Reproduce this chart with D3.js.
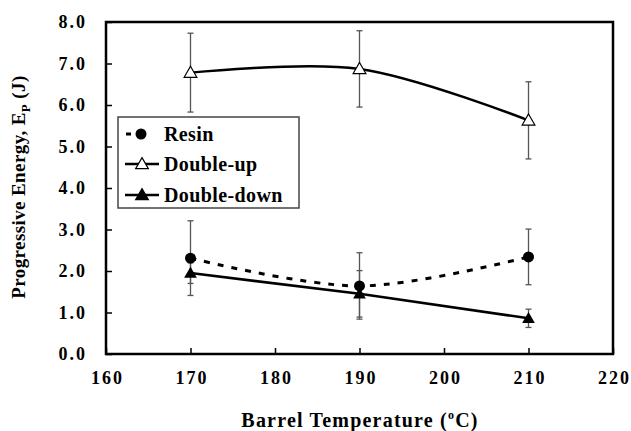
<!DOCTYPE html>
<html>
<head>
<meta charset="utf-8">
<script src="https://cdn.jsdelivr.net/npm/d3@7"></script>
<style>
body { margin:0; background:#fff; }
</style>
</head>
<body>
<div id="chart"></div>
<script>
var temps = [170, 190, 210];
var resin = [2.31, 1.64, 2.34];
var resinErr = [0.9, 0.8, 0.67];
var doubleUp = [6.78, 6.87, 5.63];
var doubleUpErr = [0.95, 0.92, 0.93];
var doubleDown = [1.95, 1.45, 0.86];
var doubleDownErr = [0.25, 0.56, 0.22];
var xTicks = [160, 170, 180, 190, 200, 210, 220];
var yTicks = [0, 1, 2, 3, 4, 5, 6, 7, 8];
var seriesNames = ["Resin", "Double-up", "Double-down"];

var W = 631, H = 431;
var margin = {left:106, top:22, right:18, bottom:77};
var FONT = "'Liberation Serif', 'Times New Roman', Times, serif";

var svg = d3.select("#chart").append("svg").attr("width", W).attr("height", H)
    .style("font-family", FONT).style("font-weight", "bold");

var x = d3.scaleLinear().domain([160, 220]).range([margin.left, W - margin.right]);
var y = d3.scaleLinear().domain([0, 8]).range([H - margin.bottom, margin.top]);

// frame
svg.append("rect")
    .attr("x", x(160)).attr("y", y(8))
    .attr("width", x(220) - x(160)).attr("height", y(0) - y(8))
    .style("fill", "none").style("stroke", "#000").style("stroke-width", 2.5);

// axes with inner ticks
var xAxis = svg.append("g").attr("transform", "translate(0," + y(0) + ")")
    .call(d3.axisBottom(x).tickValues(xTicks).tickSizeInner(-6).tickSizeOuter(0).tickPadding(17));
xAxis.attr("font-family", null).attr("font-size", null);
xAxis.select(".domain").remove();
xAxis.selectAll("line").style("stroke", "#000").style("stroke-width", 1.5);
xAxis.selectAll("text").style("font-size", "18px").style("fill", "#000")
    .style("letter-spacing", "2px").attr("dx", 1);

var yAxis = svg.append("g").attr("transform", "translate(" + x(160) + ",0)")
    .call(d3.axisLeft(y).tickValues(yTicks).tickFormat(d3.format(".1f")).tickSizeInner(-6).tickSizeOuter(0).tickPadding(19));
yAxis.attr("font-family", null).attr("font-size", null);
yAxis.select(".domain").remove();
yAxis.selectAll("line").style("stroke", "#000").style("stroke-width", 1.5);
yAxis.selectAll("text").style("font-size", "18px").style("fill", "#000")
    .style("letter-spacing", "2px");

// axis titles
var xt = svg.append("text").attr("x", 360).attr("y", 427).attr("text-anchor", "middle")
    .style("font-size", "20px").style("letter-spacing", "1.2px");
xt.append("tspan").text("Barrel Temperature (");
xt.append("tspan").attr("dy", -8).style("font-size", "12px").text("o");
xt.append("tspan").attr("dy", 8).text("C)");

var yt = svg.append("text").attr("transform", "translate(25," + ((y(0) + y(8)) / 2 - 1) + ") rotate(-90)")
    .attr("text-anchor", "middle").style("font-size", "19px")
    .style("letter-spacing", "0.4px");
yt.append("tspan").text("Progressive Energy, E");
yt.append("tspan").attr("dy", 5).style("font-size", "13px").text("P");
yt.append("tspan").attr("dy", -5).text(" (J)");

function errorBars(vals, errs) {
    var g = svg.append("g");
    temps.forEach(function(t, i) {
        var cx = x(t);
        var top = y(vals[i] + errs[i]), bot = y(vals[i] - errs[i]);
        g.append("line").attr("x1", cx).attr("x2", cx).attr("y1", top).attr("y2", bot)
            .style("stroke", "#555").style("stroke-width", 1.3);
        [top, bot].forEach(function(yy) {
            g.append("line").attr("x1", cx - 3).attr("x2", cx + 3).attr("y1", yy).attr("y2", yy)
                .style("stroke", "#555").style("stroke-width", 1.3);
        });
    });
}
errorBars(doubleUp, doubleUpErr);
errorBars(resin, resinErr);
errorBars(doubleDown, doubleDownErr);

var smooth = d3.line().x(function(d){ return x(d[0]); }).y(function(d){ return y(d[1]); })
    .curve(d3.curveCatmullRom.alpha(0.5));
var straight = d3.line().x(function(d){ return x(d[0]); }).y(function(d){ return y(d[1]); });

function pairs(vals) { return temps.map(function(t, i){ return [t, vals[i]]; }); }

svg.append("path").attr("d", smooth(pairs(resin)))
    .style("fill", "none").style("stroke", "#000").style("stroke-width", 3)
    .style("stroke-dasharray", "6,8");
svg.append("path").attr("d", smooth(pairs(doubleUp)))
    .style("fill", "none").style("stroke", "#000").style("stroke-width", 2.5);
svg.append("path").attr("d", straight(pairs(doubleDown)))
    .style("fill", "none").style("stroke", "#000").style("stroke-width", 2.5);

var tri = d3.symbol().type(d3.symbolTriangle).size(70);
var circ = d3.symbol().type(d3.symbolCircle).size(95);

svg.selectAll(".m-resin").data(pairs(resin)).enter().append("path")
    .attr("transform", function(d){ return "translate(" + x(d[0]) + "," + y(d[1]) + ")"; })
    .attr("d", circ).style("fill", "#000");
svg.selectAll(".m-up").data(pairs(doubleUp)).enter().append("path")
    .attr("transform", function(d){ return "translate(" + x(d[0]) + "," + (y(d[1]) + 1) + ")"; })
    .attr("d", tri).style("fill", "#fff").style("stroke", "#000").style("stroke-width", 1.2);
svg.selectAll(".m-down").data(pairs(doubleDown)).enter().append("path")
    .attr("transform", function(d){ return "translate(" + x(d[0]) + "," + (y(d[1]) + 1) + ")"; })
    .attr("d", tri).style("fill", "#000");

// legend
var lg = svg.append("g").attr("transform", "translate(118,117)");
lg.append("rect").attr("width", 181).attr("height", 91)
    .style("fill", "#fff").style("stroke", "#444").style("stroke-width", 1.5);
var rowY = [17, 47, 78];
seriesNames.forEach(function(name, i) {
    var r = lg.append("g").attr("transform", "translate(0," + rowY[i] + ")");
    if (i == 0) {
        r.append("line").attr("x1", 8).attr("x2", 13).attr("y1", 0).attr("y2", 0)
            .style("stroke", "#000").style("stroke-width", 3);
        r.append("path").attr("transform", "translate(23,0)").attr("d", circ).style("fill", "#000");
    } else {
        r.append("line").attr("x1", 7).attr("x2", 41).attr("y1", 0).attr("y2", 0)
            .style("stroke", "#000").style("stroke-width", 2.5);
        r.append("path").attr("transform", "translate(24,1)").attr("d", tri)
            .style("fill", i == 1 ? "#fff" : "#000").style("stroke", "#000").style("stroke-width", 1.2);
    }
    r.append("text").attr("x", 46).attr("y", 7).style("font-size", "20px")
        .style("letter-spacing", "0.4px").text(name);
});
</script>
</body>
</html>
